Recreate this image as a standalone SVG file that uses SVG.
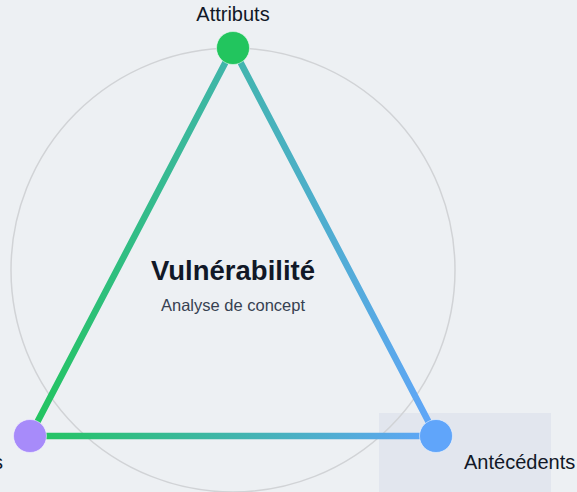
<svg xmlns="http://www.w3.org/2000/svg" width="577" height="492" viewBox="0 0 577 492">
<defs>
<linearGradient id="edgeGrad" gradientUnits="userSpaceOnUse" x1="30" y1="0" x2="436" y2="0">
<stop offset="0" stop-color="#22c55e"/>
<stop offset="1" stop-color="#60a5fa"/>
</linearGradient>
<style>
.edge{fill:none;stroke:url(#edgeGrad);stroke-width:6.5;stroke-linecap:round}
.node{stroke:#ffffff;stroke-opacity:0.5;stroke-width:1}
.lbl{font-family:"Liberation Sans",Arial,sans-serif;font-size:20px;fill:#111827}
</style>
</defs>
<rect x="0" y="0" width="577" height="492" fill="#edf0f3"/>
<rect x="379" y="413" width="172" height="79" fill="#e2e6ee"/>
<circle cx="233" cy="270" r="222" fill="none" stroke="#d1d3d6" stroke-width="1.5"/>
<g id="connectors">
<line class="edge" x1="233" y1="48" x2="30" y2="436"/>
<line class="edge" x1="233" y1="48" x2="436" y2="436"/>
<line class="edge" x1="30" y1="436" x2="436" y2="436"/>
</g>
<g id="center">
<text x="233" y="280" text-anchor="middle" font-family="'Liberation Sans',Arial,sans-serif" font-size="27.5" font-weight="bold" fill="#111827">Vulnérabilité</text>
<text x="233" y="311" text-anchor="middle" font-family="'Liberation Sans',Arial,sans-serif" font-size="16.5" fill="#374151">Analyse de concept</text>
</g>
<g id="node-attributs">
<circle class="node" cx="233" cy="48" r="16.5" fill="#22c55e"/>
<text class="lbl" x="233" y="21" text-anchor="middle">Attributs</text>
</g>
<g id="node-consequences">
<circle class="node" cx="30" cy="436" r="16.5" fill="#a78bfa"/>
<text class="lbl" x="3" y="469" text-anchor="end">s</text>
</g>
<g id="node-antecedents">
<circle class="node" cx="436" cy="436" r="16.5" fill="#60a5fa"/>
<text class="lbl" x="464" y="469">Antécédents</text>
</g>
</svg>
